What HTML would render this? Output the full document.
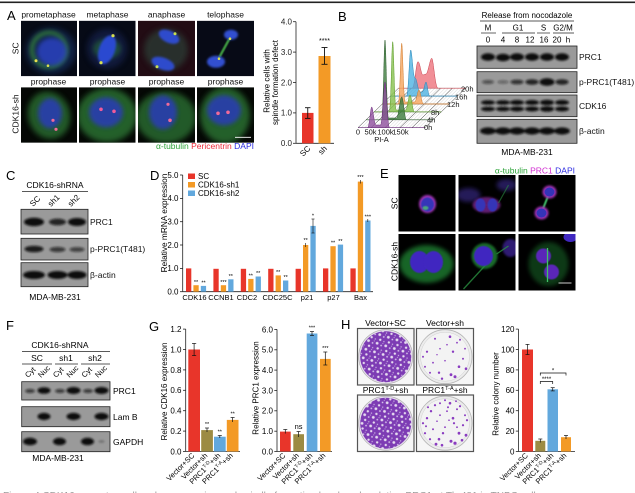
<!DOCTYPE html>
<html><head><meta charset="utf-8">
<style>
html,body{margin:0;padding:0;background:#fff;}
svg{display:block;font-family:"Liberation Sans",Arial,sans-serif;}
</style></head><body>
<svg width="635" height="493" viewBox="0 0 635 493" xmlns="http://www.w3.org/2000/svg">
<defs>
<filter id="f05" x="-50%" y="-50%" width="200%" height="200%"><feGaussianBlur stdDeviation="0.6"/></filter>
<filter id="f1" x="-50%" y="-50%" width="200%" height="200%"><feGaussianBlur stdDeviation="1"/></filter>
<filter id="f2" x="-50%" y="-50%" width="200%" height="200%"><feGaussianBlur stdDeviation="2"/></filter>
<filter id="f3" x="-50%" y="-50%" width="200%" height="200%"><feGaussianBlur stdDeviation="3"/></filter>
<filter id="fb" x="-50%" y="-80%" width="200%" height="260%"><feGaussianBlur stdDeviation="1.1"/></filter>
<pattern id="hatch" width="2.4" height="2.4" patternUnits="userSpaceOnUse" patternTransform="rotate(45)"><line x1="0" y1="0" x2="0" y2="2.4" stroke="#b5b5b5" stroke-width="0.5"/></pattern>
<pattern id="speck" width="9" height="9" patternUnits="userSpaceOnUse" patternTransform="rotate(17)"><rect width="9" height="9" fill="#7d3cb4"/><circle cx="2" cy="2" r="1.4" fill="#e6dcf0"/><circle cx="6.5" cy="3" r="0.9" fill="#d6c4ea"/><circle cx="4" cy="6.8" r="1.2" fill="#e6dcf0"/><circle cx="8" cy="7.5" r="0.7" fill="#c8b0e2"/><circle cx="7.6" cy="0.6" r="0.5" fill="#d6c4ea"/></pattern>
</defs>

<rect x="0" y="1.5" width="635" height="1.6" fill="#222"/>

<!-- ========== PANEL A ========== -->
<text x="7" y="20" font-size="13">A</text>
<g font-size="8.5" text-anchor="middle" fill="#111">
<text x="48.5" y="17.5">prometaphase</text>
<text x="107.5" y="17.5">metaphase</text>
<text x="166.5" y="17.5">anaphase</text>
<text x="225.5" y="17.5">telophase</text>
<text x="48.5" y="84.5">prophase</text>
<text x="107.5" y="84.5">prophase</text>
<text x="166.5" y="84.5">prophase</text>
<text x="225.5" y="84.5">prophase</text>
<text transform="translate(18.5,48.3) rotate(-90)">SC</text>
<text transform="translate(18.5,114) rotate(-90)">CDK16-sh</text>
</g>

<!-- A row1 -->
<svg x="21" y="20.7" width="56" height="55.5">
<rect width="56" height="55.5" fill="#070b16"/>
<ellipse cx="30" cy="30" rx="25" ry="23" fill="#1c3a78" opacity="0.5" filter="url(#f3)"/>
<circle cx="28" cy="29" r="17" fill="none" stroke="#3a9438" stroke-width="4" opacity="0.75" filter="url(#f2)"/>
<ellipse cx="31" cy="31" rx="15" ry="14" fill="#2a42c0" opacity="0.85" filter="url(#f2)"/>
<circle cx="15" cy="40" r="1.5" fill="#e8e050"/><circle cx="27" cy="45" r="1.3" fill="#d8e050"/>
</svg>
<svg x="79" y="20.7" width="56.5" height="55.5">
<rect width="56.5" height="55.5" fill="#060a16"/>
<ellipse cx="28" cy="28" rx="20" ry="20" fill="#1a2a62" opacity="0.5" filter="url(#f3)"/>
<ellipse cx="28" cy="28" rx="14" ry="10" fill="#2a7a3a" opacity="0.5" filter="url(#f2)"/>
<ellipse cx="28" cy="29" rx="8" ry="15" fill="#2c48d0" transform="rotate(20 28 29)" filter="url(#f1)"/>
<circle cx="34" cy="15" r="1.6" fill="#d8e050"/><circle cx="22" cy="42" r="1.6" fill="#d8e050"/>
</svg>
<svg x="138" y="20.7" width="57" height="55.5">
<rect width="57" height="55.5" fill="#220c14"/>
<ellipse cx="28" cy="29" rx="22" ry="21" fill="#2e4a3e" opacity="0.6" filter="url(#f3)"/>
<ellipse cx="31" cy="16" rx="11" ry="6" fill="#2f4ccc" transform="rotate(25 31 16)" filter="url(#f1)"/>
<ellipse cx="25" cy="43" rx="12" ry="6" fill="#2f4ccc" transform="rotate(20 25 43)" filter="url(#f1)"/>
<circle cx="37" cy="13" r="1.5" fill="#c8e050"/><circle cx="19" cy="46" r="1.5" fill="#c8e050"/>
</svg>
<svg x="197" y="20.7" width="57" height="55.5">
<rect width="57" height="55.5" fill="#070a16"/>
<line x1="33" y1="17" x2="21" y2="39" stroke="#3e9a40" stroke-width="2.5" filter="url(#f05)"/>
<ellipse cx="34" cy="14" rx="7" ry="5" fill="#3250d0" filter="url(#f1)"/>
<ellipse cx="19" cy="41" rx="9" ry="6" fill="#3250d0" filter="url(#f1)"/>
<circle cx="33" cy="18" r="1.3" fill="#d8e050"/><circle cx="22" cy="38" r="1.3" fill="#d8e050"/>
</svg>
<!-- A row2 -->
<svg x="21" y="87.3" width="56" height="55.5">
<rect width="56" height="55.5" fill="#050805"/>
<ellipse cx="28" cy="28" rx="21" ry="24" fill="#2a7030" opacity="0.8" transform="rotate(-20 28 28)" filter="url(#f3)"/>
<ellipse cx="29" cy="26" rx="12" ry="15" fill="#2a3cb0" opacity="0.9" filter="url(#f2)"/>
<circle cx="32" cy="33" r="1.6" fill="#f06a9a"/><circle cx="35" cy="42" r="1.6" fill="#f06a9a"/>
</svg>
<svg x="79" y="87.3" width="56.5" height="55.5">
<rect width="56.5" height="55.5" fill="#050805"/>
<ellipse cx="28" cy="28" rx="30" ry="27" fill="#2a7030" opacity="0.85" filter="url(#f3)"/>
<ellipse cx="27" cy="25" rx="17" ry="15" fill="#2a3cb0" opacity="0.9" filter="url(#f2)"/>
<circle cx="22" cy="22" r="1.8" fill="#f05a9a"/><circle cx="35" cy="24" r="1.8" fill="#f05a9a"/>
</svg>
<svg x="138" y="87.3" width="57" height="55.5">
<rect width="57" height="55.5" fill="#050805"/>
<ellipse cx="28" cy="30" rx="30" ry="26" fill="#2a7030" opacity="0.8" filter="url(#f3)"/>
<ellipse cx="25" cy="25" rx="14" ry="17" fill="#2a3cb0" opacity="0.9" filter="url(#f2)"/>
<circle cx="30" cy="17" r="1.6" fill="#f06a9a"/><circle cx="32" cy="33" r="1.8" fill="#f06a9a"/>
</svg>
<svg x="197" y="87.3" width="57" height="55.5">
<rect width="57" height="55.5" fill="#050805"/>
<ellipse cx="28" cy="28" rx="25" ry="28" fill="#2a7030" opacity="0.85" filter="url(#f3)"/>
<ellipse cx="27" cy="23" rx="17" ry="15" fill="#2a3cb0" opacity="0.9" filter="url(#f2)"/>
<circle cx="21" cy="26" r="1.8" fill="#f06a9a"/><circle cx="31" cy="25" r="1.8" fill="#f06a9a"/>
<line x1="38" y1="50" x2="54" y2="50" stroke="#fff" stroke-width="0.8"/>
</svg>
<text x="254" y="149" font-size="8.5" text-anchor="end"><tspan fill="#2ea43a">α-tubulin</tspan> <tspan fill="#ee2b3a">Pericentrin</tspan> <tspan fill="#2a2ae0">DAPI</tspan></text>

<!-- A bar chart -->
<g stroke="#222" stroke-width="0.8">
<line x1="296" y1="21.7" x2="296" y2="143.3"/>
<line x1="296" y1="143.3" x2="334" y2="143.3"/>
<line x1="293" y1="21.7" x2="296" y2="21.7"/><line x1="293" y1="52.1" x2="296" y2="52.1"/>
<line x1="293" y1="82.5" x2="296" y2="82.5"/><line x1="293" y1="112.9" x2="296" y2="112.9"/>
<line x1="293" y1="143.3" x2="296" y2="143.3"/>
</g>
<g font-size="8" text-anchor="end" fill="#222">
<text x="292" y="24.5">4.0</text><text x="292" y="54.9">3.0</text><text x="292" y="85.3">2.0</text>
<text x="292" y="115.7">1.0</text><text x="292" y="146.1">0.0</text>
</g>
<rect x="302" y="112.9" width="11.5" height="30.4" fill="#e8352a"/>
<rect x="318.5" y="56" width="12" height="87.3" fill="#f39a26"/>
<g stroke="#111" stroke-width="0.9">
<line x1="307.75" y1="107.7" x2="307.75" y2="118.4"/><line x1="305" y1="107.7" x2="310.5" y2="107.7"/><line x1="305" y1="118.4" x2="310.5" y2="118.4"/>
<line x1="324.5" y1="47.5" x2="324.5" y2="64.3"/><line x1="321.5" y1="47.5" x2="327.5" y2="47.5"/><line x1="321.5" y1="64.3" x2="327.5" y2="64.3"/>
</g>
<text x="324.5" y="43" font-size="7" text-anchor="middle">****</text>
<g font-size="8" text-anchor="end">
<text transform="translate(311,149) rotate(-45)">SC</text>
<text transform="translate(327.5,149) rotate(-45)">sh</text>
</g>
<g font-size="8" text-anchor="middle">
<text transform="translate(269.5,81) rotate(-90)">Relative cells with</text>
<text transform="translate(278,82.5) rotate(-90)">spindle formation defect</text>
</g>

<!-- ========== PANEL B ========== -->
<text x="338" y="21" font-size="13">B</text>
<polygon points="358,127.7 425,127.7 465.5,88.2 398.5,88.2" fill="#fff"/>
<polygon points="358,127.7 425,127.7 465.5,88.2 398.5,88.2" fill="url(#hatch)"/>
<g stroke="#333" stroke-width="0.5" fill="none">
<line x1="358" y1="127.7" x2="398.5" y2="88.2"/>
<line x1="425" y1="127.7" x2="465.5" y2="88.2"/>
<line x1="371" y1="127.7" x2="411.5" y2="88.2"/>
<line x1="385" y1="127.7" x2="425.5" y2="88.2"/>
<line x1="400" y1="127.7" x2="440.5" y2="88.2"/>
<line x1="412" y1="127.7" x2="452.5" y2="88.2"/>
<line x1="358" y1="127.7" x2="425" y2="127.7"/>
<line x1="366.1" y1="119.8" x2="433.1" y2="119.8"/>
<line x1="374.2" y1="111.9" x2="441.2" y2="111.9"/>
<line x1="382.3" y1="104" x2="449.3" y2="104"/>
<line x1="390.4" y1="96.1" x2="457.4" y2="96.1"/>
<line x1="398.5" y1="88.2" x2="465.5" y2="88.2"/>
</g>
<path d="M398.5,88.2 L412,88.2 C415,88.2 416,61.7 418,61.7 C420,61.7 421,75 423,75 L426,74 C428,74 430,58.3 431.7,58.3 C433.5,58.3 435,88.2 438,88.2 L465.5,88.2 Z" fill="#ec6a74" fill-opacity="0.75" stroke="#c8404c" stroke-width="0.5"/>
<path d="M390.4,96.1 L406.5,96.1 C408.5,96.1 409.5,50 410.7,50 C412,50 413,78 415,78 C417,78 418,92 420,92 L422,92 C424,92 424.8,82 426,82 C427.2,82 428,96.1 430,96.1 L457.4,96.1 Z" fill="#42ade0" fill-opacity="0.75" stroke="#2a86b8" stroke-width="0.5"/>
<path d="M382.3,104 L398.2,104 C400,104 400.7,43.3 401.7,43.3 C402.7,43.3 403.4,102 405.2,102 L414.5,102 C416.5,102 417.5,90 419,90 C420.5,90 421.5,104 423.5,104 L449.3,104 Z" fill="#f5a45c" fill-opacity="0.8" stroke="#d07a2a" stroke-width="0.5"/>
<path d="M374.2,111.9 L389.2,111.9 C391,111.9 391.7,41.7 392.7,41.7 C393.7,41.7 394.4,110 396.2,110 L405.5,110 C407.5,110 408.5,95 410,95 C411.5,95 412.5,111.9 414.5,111.9 L441.2,111.9 Z" fill="#86c04c" fill-opacity="0.8" stroke="#5a9a2a" stroke-width="0.5"/>
<path d="M366.1,119.8 L381.5,119.8 C383.3,119.8 384,40 385,40 C386,40 386.7,118 388.5,118 L396.5,118 C398.5,118 400,97 401.7,97 C403.4,97 404.5,119.8 406.5,119.8 L433.1,119.8 Z" fill="#3b7a3b" fill-opacity="0.8" stroke="#2a5a2a" stroke-width="0.5"/>
<path d="M358,127.7 L367.5,127.7 C369.5,127.7 370.5,107 371.7,107 C373,107 374,125 376,125 L380.5,125 C382.5,125 383.8,82 385,82 C386.2,82 387.5,127.7 389.5,127.7 L425,127.7 Z" fill="#8e4f9e" fill-opacity="0.8" stroke="#6a2a7a" stroke-width="0.5"/>
<g font-size="7.5" fill="#111">
<text x="461" y="91.5">20h</text><text x="455" y="99.5">16h</text><text x="447" y="107">12h</text>
<text x="431" y="115">8h</text><text x="427" y="122.5">4h</text><text x="424" y="130">0h</text>
</g>
<g font-size="7.5" text-anchor="middle" fill="#111">
<text x="358" y="134.5">0</text><text x="370.5" y="134.5">50k</text><text x="385.5" y="134.5">100k</text><text x="400.5" y="134.5">150k</text>
<text x="381.5" y="142">PI-A</text>
</g>

<!-- B blot -->
<text x="527" y="18" font-size="8" text-anchor="middle">Release from nocodazole</text>
<line x1="480" y1="21" x2="574" y2="21" stroke="#222" stroke-width="0.7"/>
<g font-size="8" text-anchor="middle">
<text x="488" y="30.5">M</text><text x="518" y="30.5">G1</text><text x="543.5" y="30.5">S</text><text x="563" y="30.5">G2/M</text>
<text x="488" y="42.5">0</text><text x="503" y="42.5">4</text><text x="517" y="42.5">8</text><text x="530" y="42.5">12</text><text x="544" y="42.5">16</text><text x="557" y="42.5">20</text><text x="568" y="42.5">h</text>
</g>
<g stroke="#222" stroke-width="0.7">
<line x1="481" y1="33" x2="496" y2="33"/><line x1="502" y1="33" x2="535" y2="33"/>
<line x1="537" y1="33" x2="550" y2="33"/><line x1="553" y1="33" x2="574" y2="33"/>
</g>
<g fill="#9a9a9a" stroke="#222" stroke-width="0.8">
<rect x="477" y="46" width="100" height="22.3"/>
<rect x="477" y="71.7" width="100" height="21"/>
<rect x="477" y="95" width="100" height="21.7"/>
<rect x="477" y="119.3" width="100" height="24"/>
</g>
<g fill="#111" filter="url(#fb)">
<ellipse cx="488" cy="57" rx="7" ry="3.8"/><ellipse cx="503" cy="57.5" rx="7" ry="3.8"/><ellipse cx="517" cy="57" rx="7" ry="3.8"/>
<ellipse cx="532" cy="57" rx="7" ry="3.8"/><ellipse cx="547" cy="57" rx="7" ry="3.8"/><ellipse cx="562" cy="57" rx="7" ry="3.8"/>
<ellipse cx="488" cy="82" rx="6" ry="2" opacity="0.55"/><ellipse cx="503" cy="82" rx="5.5" ry="1.8" opacity="0.4"/><ellipse cx="517" cy="82" rx="6.5" ry="2.4" opacity="0.75"/>
<ellipse cx="532" cy="82" rx="6.5" ry="2.8" opacity="0.85"/><ellipse cx="547" cy="82" rx="7.5" ry="3.8"/><ellipse cx="562" cy="82" rx="6.5" ry="2.8" opacity="0.85"/>
<ellipse cx="488" cy="102.5" rx="7" ry="2.3"/><ellipse cx="503" cy="102.5" rx="7" ry="2.3"/><ellipse cx="517" cy="102.5" rx="7" ry="2.5"/><ellipse cx="532" cy="102.5" rx="7" ry="2.5"/><ellipse cx="547" cy="102.5" rx="7" ry="2.8"/><ellipse cx="562" cy="102.5" rx="7" ry="2.5"/>
<ellipse cx="488" cy="109" rx="7" ry="2.3"/><ellipse cx="503" cy="109" rx="7" ry="2.3"/><ellipse cx="517" cy="109" rx="7" ry="2.5"/><ellipse cx="532" cy="109" rx="7" ry="2.5"/><ellipse cx="547" cy="109" rx="7" ry="2.8"/><ellipse cx="562" cy="109" rx="7" ry="2.5"/>
<ellipse cx="488" cy="131" rx="8" ry="3.6"/><ellipse cx="503" cy="131" rx="8" ry="3.6"/><ellipse cx="517" cy="131" rx="8" ry="3.6"/>
<ellipse cx="532" cy="131" rx="8" ry="3.6"/><ellipse cx="547" cy="131" rx="8" ry="3.6"/><ellipse cx="562" cy="131" rx="8" ry="3.6"/>
</g>
<g font-size="8.5" fill="#111">
<text x="579" y="60">PRC1</text><text x="579" y="85">p-PRC1(T481)</text><text x="579" y="109">CDK16</text><text x="579" y="134">β-actin</text>
</g>
<text x="527" y="155" font-size="8.5" text-anchor="middle">MDA-MB-231</text>

<!-- ========== PANEL C ========== -->
<text x="6" y="180" font-size="13">C</text>
<text x="55" y="188" font-size="8.5" text-anchor="middle">CDK16-shRNA</text>
<line x1="22" y1="191.5" x2="88" y2="191.5" stroke="#222" stroke-width="0.7"/>
<g font-size="8">
<text transform="translate(33,207) rotate(-45)">SC</text>
<text transform="translate(51,207) rotate(-45)">sh1</text>
<text transform="translate(71,207) rotate(-45)">sh2</text>
</g>
<g fill="#9a9a9a" stroke="#222" stroke-width="0.8">
<rect x="21" y="209.3" width="67" height="24.7"/>
<rect x="21" y="238.3" width="67" height="21.7"/>
<rect x="21" y="262.7" width="67" height="24"/>
</g>
<g fill="#111" filter="url(#fb)">
<ellipse cx="34" cy="222" rx="10" ry="4.2"/><ellipse cx="57.5" cy="222" rx="8.5" ry="3.4" opacity="0.85"/><ellipse cx="77" cy="222" rx="9" ry="4"/>
<ellipse cx="34" cy="249" rx="9.5" ry="3.3" opacity="0.9"/><ellipse cx="57.5" cy="249.5" rx="8" ry="2.6" opacity="0.7"/><ellipse cx="77" cy="249.5" rx="7.5" ry="2.4" opacity="0.65"/>
<ellipse cx="34" cy="275" rx="11" ry="4"/><ellipse cx="57.5" cy="275" rx="10" ry="4"/><ellipse cx="77" cy="275" rx="9.5" ry="4"/>
</g>
<g font-size="8.5" fill="#111">
<text x="90" y="225">PRC1</text><text x="90" y="252">p-PRC1(T481)</text><text x="90" y="278">β-actin</text>
</g>
<text x="55" y="300" font-size="8.5" text-anchor="middle">MDA-MB-231</text>

<!-- ========== PANEL D ========== -->
<text x="150" y="180" font-size="13">D</text>
<g stroke="#222" stroke-width="0.8">
<line x1="182.7" y1="175" x2="182.7" y2="291.7"/>
<line x1="182.7" y1="291.7" x2="373" y2="291.7"/>
<line x1="180" y1="175" x2="182.7" y2="175"/><line x1="180" y1="198.4" x2="182.7" y2="198.4"/>
<line x1="180" y1="221.7" x2="182.7" y2="221.7"/><line x1="180" y1="245" x2="182.7" y2="245"/>
<line x1="180" y1="268.4" x2="182.7" y2="268.4"/><line x1="180" y1="291.7" x2="182.7" y2="291.7"/>
</g>
<g font-size="8" text-anchor="end">
<text x="178.5" y="177.8">5.0</text><text x="178.5" y="201.2">4.0</text><text x="178.5" y="224.5">3.0</text>
<text x="178.5" y="247.8">2.0</text><text x="178.5" y="271.2">1.0</text><text x="178.5" y="294.5">0.0</text>
</g>
<text transform="translate(167,223) rotate(-90)" font-size="8.3" text-anchor="middle">Relative mRNA expression</text>
<rect x="188" y="173.5" width="7" height="5.5" fill="#e8352a"/><text x="198" y="179.2" font-size="8">SC</text>
<rect x="188" y="182" width="7" height="5.5" fill="#f39a26"/><text x="198" y="187.7" font-size="8">CDK16-sh1</text>
<rect x="188" y="190.5" width="7" height="5.5" fill="#62a8dd"/><text x="198" y="196.2" font-size="8">CDK16-sh2</text>
<g fill="#e8352a">
<rect x="186" y="268.4" width="5.3" height="23.3"/><rect x="213.4" y="268.8" width="5.3" height="22.9"/>
<rect x="240.8" y="268.8" width="5.3" height="22.9"/><rect x="268.2" y="268.8" width="5.3" height="22.9"/>
<rect x="295.6" y="268.8" width="5.3" height="22.9"/><rect x="323" y="268.4" width="5.3" height="23.3"/>
<rect x="350.4" y="268.4" width="5.3" height="23.3"/>
</g>
<g fill="#f39a26">
<rect x="193.4" y="285.2" width="5.3" height="6.5"/><rect x="220.8" y="285.2" width="5.3" height="6.5"/>
<rect x="248.2" y="278.9" width="5.3" height="12.8"/><rect x="275.6" y="275.4" width="5.3" height="16.3"/>
<rect x="303" y="245" width="5.3" height="46.7"/><rect x="330.4" y="246.2" width="5.3" height="45.5"/>
<rect x="357.8" y="181.6" width="5.3" height="110.1"/>
</g>
<g fill="#62a8dd">
<rect x="200.8" y="285.9" width="5.3" height="5.8"/><rect x="228.2" y="279.3" width="5.3" height="12.4"/>
<rect x="255.6" y="276.5" width="5.3" height="15.2"/><rect x="283" y="280.5" width="5.3" height="11.2"/>
<rect x="310.4" y="225.9" width="5.3" height="65.8"/><rect x="337.8" y="244.6" width="5.3" height="47.1"/>
<rect x="365.2" y="220.5" width="5.3" height="71.2"/>
</g>
<g stroke="#111" stroke-width="0.6">
<line x1="313" y1="219" x2="313" y2="233"/><line x1="311.5" y1="219" x2="314.5" y2="219"/><line x1="311.5" y1="233" x2="314.5" y2="233"/>
<line x1="305.6" y1="243" x2="305.6" y2="247"/><line x1="360.4" y1="180" x2="360.4" y2="183.5"/><line x1="367.8" y1="219" x2="367.8" y2="222"/>
</g>
<g font-size="5.5" text-anchor="middle">
<text x="196" y="284">**</text><text x="203.5" y="284.5">**</text>
<text x="223.4" y="284">***</text><text x="230.8" y="278">**</text>
<text x="250.8" y="277.5">**</text><text x="258.2" y="275">**</text>
<text x="278.2" y="274">**</text><text x="285.6" y="279">**</text>
<text x="305.6" y="242">**</text><text x="313" y="217.5">*</text>
<text x="333" y="244.5">**</text><text x="340.4" y="243">**</text>
<text x="360.4" y="179">***</text><text x="367.8" y="218.5">***</text>
</g>
<g font-size="7.5" text-anchor="middle">
<text x="194.5" y="300">CDK16</text><text x="221" y="300">CCNB1</text><text x="247" y="300">CDC2</text>
<text x="277.5" y="300">CDC25C</text><text x="307" y="300">p21</text><text x="333.5" y="300">p27</text><text x="360.5" y="300">Bax</text>
</g>

<!-- ========== PANEL E ========== -->
<text x="380" y="178" font-size="13">E</text>
<text x="575" y="173.5" font-size="8.5" text-anchor="end"><tspan fill="#2ea43a">α-tubulin</tspan> <tspan fill="#d02ad0">PRC1</tspan> <tspan fill="#2a2ae0">DAPI</tspan></text>
<g font-size="8.5" text-anchor="middle">
<text transform="translate(397.5,203.3) rotate(-90)">SC</text>
<text transform="translate(397.5,261.5) rotate(-90)">CDK16-sh</text>
</g>
<svg x="398.5" y="175" width="57" height="56.5">
<rect width="57" height="56.5" fill="#000"/>
<ellipse cx="29" cy="29" rx="8.5" ry="9" fill="#a035b8" filter="url(#f1)"/>
<ellipse cx="29" cy="29.5" rx="6.5" ry="7" fill="#3434b8" filter="url(#f05)"/>
<ellipse cx="27" cy="33" rx="3" ry="2" fill="#50c070" opacity="0.8" filter="url(#f05)"/>
</svg>
<svg x="458.5" y="175" width="57" height="56.5">
<rect width="57" height="56.5" fill="#000"/>
<ellipse cx="10" cy="20" rx="12" ry="7" fill="#2e2270" opacity="0.8" filter="url(#f2)"/>
<ellipse cx="48" cy="10" rx="10" ry="6" fill="#2e2270" opacity="0.8" filter="url(#f2)"/>
<ellipse cx="28" cy="30" rx="14" ry="8" fill="#8a2aa0" opacity="0.7" filter="url(#f1)"/>
<ellipse cx="22" cy="30" rx="5" ry="6.5" fill="#3434b8" filter="url(#f05)"/>
<ellipse cx="34" cy="30" rx="5" ry="6.5" fill="#3434b8" filter="url(#f05)"/>
<line x1="28" y1="24" x2="28" y2="36" stroke="#50d078" stroke-width="2.5" filter="url(#f05)"/>
<line x1="40" y1="28" x2="50" y2="10" stroke="#2a8a40" stroke-width="1.2" opacity="0.6"/>
</svg>
<svg x="518.5" y="175" width="57" height="56.5">
<rect width="57" height="56.5" fill="#000"/>
<line x1="30" y1="20" x2="24" y2="35" stroke="#40c068" stroke-width="2" filter="url(#f05)"/>
<ellipse cx="31" cy="17" rx="7" ry="6.5" fill="#a030b8" filter="url(#f1)"/>
<ellipse cx="31" cy="17" rx="5" ry="4.5" fill="#3434b8"/>
<ellipse cx="23" cy="38" rx="7" ry="6.5" fill="#a030b8" filter="url(#f1)"/>
<ellipse cx="23" cy="38" rx="5" ry="4.5" fill="#3434b8"/>
</svg>
<svg x="398.5" y="234" width="57" height="56.5">
<rect width="57" height="56.5" fill="#000"/>
<ellipse cx="28" cy="30" rx="27" ry="19" fill="#229038" opacity="0.7" filter="url(#f2)"/>
<ellipse cx="21" cy="28" rx="9.5" ry="11" fill="#4028c0" filter="url(#f05)"/>
<ellipse cx="35" cy="28" rx="9.5" ry="11" fill="#4028c0" filter="url(#f05)"/>
</svg>
<svg x="458.5" y="234" width="57" height="56.5">
<rect width="57" height="56.5" fill="#000"/>
<ellipse cx="52" cy="14" rx="8" ry="9" fill="#3a2290" opacity="0.8" filter="url(#f1)"/>
<line x1="28" y1="30" x2="5" y2="55" stroke="#2a9040" stroke-width="1.3" opacity="0.8"/>
<line x1="38" y1="20" x2="50" y2="12" stroke="#2a9040" stroke-width="1.3" opacity="0.8"/>
<ellipse cx="26" cy="22" rx="13" ry="13" fill="#229038" opacity="0.75" filter="url(#f1)"/>
<ellipse cx="25" cy="22" rx="9.5" ry="10" fill="#4028c0" filter="url(#f05)"/>
</svg>
<svg x="518.5" y="234" width="57" height="56.5">
<rect width="57" height="56.5" fill="#000"/>
<ellipse cx="30" cy="30" rx="20" ry="22" fill="#229038" opacity="0.4" filter="url(#f2)"/>
<ellipse cx="52" cy="3" rx="7" ry="5" fill="#4028c0"/>
<ellipse cx="25" cy="22" rx="7.5" ry="7.5" fill="#5a28b8" filter="url(#f05)"/>
<ellipse cx="33" cy="38" rx="7.5" ry="7.5" fill="#5a28b8" filter="url(#f05)"/>
<line x1="29" y1="14" x2="29" y2="48" stroke="#40c068" stroke-width="1.3"/>
<line x1="40" y1="49" x2="53" y2="49" stroke="#fff" stroke-width="0.8"/>
</svg>

<!-- ========== PANEL F ========== -->
<text x="6" y="330" font-size="13">F</text>
<text x="60" y="348" font-size="8.5" text-anchor="middle">CDK16-shRNA</text>
<line x1="22" y1="351.5" x2="110" y2="351.5" stroke="#222" stroke-width="0.7"/>
<g font-size="8.5" text-anchor="middle">
<text x="37" y="361">SC</text><text x="66" y="361">sh1</text><text x="95" y="361">sh2</text>
</g>
<g stroke="#222" stroke-width="0.7">
<line x1="22" y1="364" x2="52" y2="364"/><line x1="55" y1="364" x2="78" y2="364"/><line x1="81" y1="364" x2="110" y2="364"/>
</g>
<g font-size="7.5">
<text transform="translate(28,378) rotate(-45)">Cyt</text><text transform="translate(41,378) rotate(-45)">Nuc</text>
<text transform="translate(56,378) rotate(-45)">Cyt</text><text transform="translate(69.5,378) rotate(-45)">Nuc</text>
<text transform="translate(84.5,378) rotate(-45)">Cyt</text><text transform="translate(98,378) rotate(-45)">Nuc</text>
</g>
<g fill="#9a9a9a" stroke="#222" stroke-width="0.8">
<rect x="21.7" y="381.7" width="88.3" height="18.3"/>
<rect x="21.7" y="406.7" width="88.3" height="20"/>
<rect x="21.7" y="431.7" width="88.3" height="20"/>
</g>
<g fill="#111" filter="url(#fb)">
<ellipse cx="30" cy="391" rx="5" ry="2" opacity="0.7"/><ellipse cx="44" cy="390.5" rx="6.5" ry="3.3"/>
<ellipse cx="60" cy="391" rx="5" ry="2" opacity="0.7"/><ellipse cx="73.5" cy="390.5" rx="7" ry="3.5"/>
<ellipse cx="88" cy="391" rx="5" ry="2" opacity="0.7"/><ellipse cx="101.5" cy="390.5" rx="7" ry="3.5"/>
<ellipse cx="44" cy="416.5" rx="6.5" ry="3.6"/><ellipse cx="73.5" cy="416.5" rx="7" ry="3.6"/><ellipse cx="101.5" cy="416.5" rx="7" ry="3.6"/>
<ellipse cx="30" cy="441.5" rx="7" ry="3.8"/><ellipse cx="59.5" cy="441.5" rx="6.5" ry="3.8"/><ellipse cx="87.5" cy="441.5" rx="6.5" ry="3.8"/>
<ellipse cx="101.5" cy="441.5" rx="3" ry="1.2" opacity="0.3"/>
</g>
<g font-size="8.5">
<text x="113" y="394">PRC1</text><text x="113" y="420">Lam B</text><text x="113" y="445">GAPDH</text>
</g>
<text x="58" y="461" font-size="8.5" text-anchor="middle">MDA-MB-231</text>

<!-- ========== PANEL G ========== -->
<text x="149" y="331" font-size="13">G</text>
<g stroke="#222" stroke-width="0.8">
<line x1="185.7" y1="329.1" x2="185.7" y2="451.5"/>
<line x1="185.7" y1="451.5" x2="240" y2="451.5"/>
<line x1="183" y1="329.1" x2="185.7" y2="329.1"/><line x1="183" y1="349.5" x2="185.7" y2="349.5"/>
<line x1="183" y1="369.9" x2="185.7" y2="369.9"/><line x1="183" y1="390.3" x2="185.7" y2="390.3"/>
<line x1="183" y1="410.7" x2="185.7" y2="410.7"/><line x1="183" y1="431.1" x2="185.7" y2="431.1"/>
<line x1="183" y1="451.5" x2="185.7" y2="451.5"/>
</g>
<g font-size="8" text-anchor="end">
<text x="181.5" y="332">1.2</text><text x="181.5" y="352.4">1.0</text><text x="181.5" y="372.8">0.8</text>
<text x="181.5" y="393.2">0.6</text><text x="181.5" y="413.6">0.4</text><text x="181.5" y="434">0.2</text><text x="181.5" y="454.4">0.0</text>
</g>
<text transform="translate(167,391.5) rotate(-90)" font-size="8" text-anchor="middle">Relative CDK16 expression</text>
<rect x="188.3" y="349.5" width="11.7" height="102" fill="#e8352a"/>
<rect x="201.2" y="430.1" width="11.7" height="21.4" fill="#9c8b43"/>
<rect x="214" y="436.7" width="11.7" height="14.8" fill="#62a8dd"/>
<rect x="226.8" y="419.9" width="11.7" height="31.6" fill="#f39a26"/>
<g stroke="#111" stroke-width="0.7">
<line x1="194.1" y1="343.4" x2="194.1" y2="355.6"/><line x1="192" y1="343.4" x2="196.2" y2="343.4"/><line x1="192" y1="355.6" x2="196.2" y2="355.6"/>
<line x1="207" y1="428" x2="207" y2="432"/><line x1="205" y1="428" x2="209" y2="428"/>
<line x1="219.8" y1="435.5" x2="219.8" y2="438"/><line x1="217.8" y1="435.5" x2="221.8" y2="435.5"/>
<line x1="232.6" y1="417.5" x2="232.6" y2="422"/><line x1="230.6" y1="417.5" x2="234.6" y2="417.5"/>
</g>
<g font-size="5.5" text-anchor="middle">
<text x="207" y="426">**</text><text x="219.8" y="433.5">**</text><text x="232.6" y="415.5">**</text>
</g>
<g font-size="7.5" text-anchor="end">
<text transform="translate(195,456) rotate(-45)">Vector+SC</text>
<text transform="translate(208,456) rotate(-45)">Vector+sh</text>
<text transform="translate(221,456) rotate(-45)">PRC1<tspan font-size="5" dy="-3">T-D</tspan><tspan dy="3">+sh</tspan></text>
<text transform="translate(233.5,456) rotate(-45)">PRC1<tspan font-size="5" dy="-3">T-A</tspan><tspan dy="3">+sh</tspan></text>
</g>
<g stroke="#222" stroke-width="0.8">
<line x1="277" y1="329.4" x2="277" y2="451.5"/>
<line x1="277" y1="451.5" x2="332" y2="451.5"/>
<line x1="274.3" y1="329.4" x2="277" y2="329.4"/><line x1="274.3" y1="349.8" x2="277" y2="349.8"/>
<line x1="274.3" y1="370.1" x2="277" y2="370.1"/><line x1="274.3" y1="390.5" x2="277" y2="390.5"/>
<line x1="274.3" y1="410.8" x2="277" y2="410.8"/><line x1="274.3" y1="431.2" x2="277" y2="431.2"/>
<line x1="274.3" y1="451.5" x2="277" y2="451.5"/>
</g>
<g font-size="8" text-anchor="end">
<text x="273" y="332.3">6.0</text><text x="273" y="352.7">5.0</text><text x="273" y="373">4.0</text>
<text x="273" y="393.4">3.0</text><text x="273" y="413.7">2.0</text><text x="273" y="434.1">1.0</text><text x="273" y="454.4">0.0</text>
</g>
<text transform="translate(258.5,388) rotate(-90)" font-size="8" text-anchor="middle">Relative PRC1 expression</text>
<rect x="280" y="431.6" width="10.7" height="19.9" fill="#e8352a"/>
<rect x="293.3" y="434.2" width="10.7" height="17.3" fill="#9c8b43"/>
<rect x="306.7" y="333.5" width="10.7" height="118" fill="#62a8dd"/>
<rect x="320" y="358.9" width="10.7" height="92.6" fill="#f39a26"/>
<g stroke="#111" stroke-width="0.7">
<line x1="285.3" y1="429.5" x2="285.3" y2="433.5"/><line x1="283.3" y1="429.5" x2="287.3" y2="429.5"/>
<line x1="298.6" y1="431.5" x2="298.6" y2="437"/><line x1="296.6" y1="431.5" x2="300.6" y2="431.5"/>
<line x1="312" y1="331.5" x2="312" y2="335.5"/><line x1="310" y1="331.5" x2="314" y2="331.5"/><line x1="310" y1="335.5" x2="314" y2="335.5"/>
<line x1="325.3" y1="352" x2="325.3" y2="365"/><line x1="323.3" y1="352" x2="327.3" y2="352"/><line x1="323.3" y1="365" x2="327.3" y2="365"/>
</g>
<text x="298.6" y="429" font-size="7.5" text-anchor="middle">ns</text>
<g font-size="5.5" text-anchor="middle"><text x="312" y="329.5">***</text><text x="325.3" y="350">***</text></g>
<g font-size="7.5" text-anchor="end">
<text transform="translate(286,456) rotate(-45)">Vector+SC</text>
<text transform="translate(299.5,456) rotate(-45)">Vector+sh</text>
<text transform="translate(313,456) rotate(-45)">PRC1<tspan font-size="5" dy="-3">T-D</tspan><tspan dy="3">+sh</tspan></text>
<text transform="translate(326,456) rotate(-45)">PRC1<tspan font-size="5" dy="-3">T-A</tspan><tspan dy="3">+sh</tspan></text>
</g>

<!-- ========== PANEL H ========== -->
<text x="341" y="329" font-size="13">H</text>
<g font-size="8.5" text-anchor="middle">
<text x="385.5" y="326">Vector+SC</text><text x="445" y="326">Vector+sh</text>
<text x="385.5" y="393">PRC1<tspan font-size="5.5" dy="-3">T-D</tspan><tspan dy="3">+sh</tspan></text>
<text x="445" y="393">PRC1<tspan font-size="5.5" dy="-3">T-A</tspan><tspan dy="3">+sh</tspan></text>
</g>
<g fill="#f6f6f6" stroke="#555" stroke-width="1.2">
<rect x="357.5" y="328.5" width="56.5" height="56.5"/><rect x="416.5" y="328.5" width="57" height="56.5"/>
<rect x="357.5" y="395" width="56.5" height="56.5"/><rect x="416.5" y="395" width="57" height="56.5"/>
</g>
<circle cx="385.7" cy="356.7" r="27" fill="#e4dcea" stroke="#aaa" stroke-width="0.6"/>
<circle cx="385.7" cy="356.7" r="25.5" fill="url(#speck)"/>
<circle cx="385.7" cy="423.2" r="27" fill="#e4dcea" stroke="#aaa" stroke-width="0.6"/>
<circle cx="385.7" cy="423.2" r="25.5" fill="url(#speck)"/>
<circle cx="445" cy="356.7" r="27" fill="#ececec" stroke="#b5b5b5" stroke-width="0.8"/>
<circle cx="445" cy="356.7" r="24.5" fill="#f3f3f3" stroke="#d0d0d0" stroke-width="0.5"/>
<circle cx="445" cy="423.2" r="27" fill="#ececec" stroke="#b5b5b5" stroke-width="0.8"/>
<circle cx="445" cy="423.2" r="24.5" fill="#f3f3f3" stroke="#d0d0d0" stroke-width="0.5"/>
<g fill="#8a3cc0" transform="translate(445,356.7)">
<circle cx="-10" cy="-18" r="1"/><circle cx="5" cy="-20" r="1.3"/><circle cx="12" cy="-14" r="0.9"/><circle cx="-18" cy="-5" r="1.1"/>
<circle cx="-5" cy="-8" r="0.8"/><circle cx="8" cy="-5" r="1.2"/><circle cx="18" cy="2" r="1"/><circle cx="-12" cy="6" r="0.9"/>
<circle cx="0" cy="4" r="0.8"/><circle cx="14" cy="10" r="1.3"/><circle cx="-20" cy="10" r="1"/><circle cx="-6" cy="16" r="1.2"/>
<circle cx="6" cy="18" r="1.4"/><circle cx="15" cy="-17" r="1"/><circle cx="-3" cy="22" r="1.2"/><circle cx="10" cy="20" r="1.5"/>
<circle cx="-15" cy="16" r="1"/><circle cx="20" cy="-8" r="0.9"/><circle cx="-22" cy="0" r="1"/><circle cx="2" cy="-12" r="0.8"/>
<circle cx="-8" cy="-2" r="0.7"/><circle cx="21" cy="12" r="1.3"/>
</g>
<g fill="#8a3cc0" transform="translate(445,423.2)">
<circle cx="-10" cy="-18" r="1.1"/><circle cx="5" cy="-20" r="1.3"/><circle cx="12" cy="-14" r="1"/><circle cx="-18" cy="-5" r="1.2"/>
<circle cx="-5" cy="-8" r="0.9"/><circle cx="8" cy="-5" r="1.3"/><circle cx="18" cy="2" r="1.1"/><circle cx="-12" cy="6" r="1"/>
<circle cx="0" cy="4" r="0.9"/><circle cx="14" cy="10" r="1.4"/><circle cx="-20" cy="10" r="1.1"/><circle cx="-6" cy="16" r="1.3"/>
<circle cx="6" cy="18" r="1.5"/><circle cx="15" cy="-17" r="1.1"/><circle cx="-3" cy="22" r="1.3"/><circle cx="10" cy="20" r="1.6"/>
<circle cx="-15" cy="16" r="1.1"/><circle cx="20" cy="-8" r="1"/><circle cx="-22" cy="0" r="1.1"/><circle cx="2" cy="-12" r="0.9"/>
<circle cx="-8" cy="-2" r="0.8"/><circle cx="21" cy="12" r="1.4"/><circle cx="-14" cy="-12" r="1.2"/><circle cx="3" cy="-16" r="1"/>
<circle cx="9" cy="0" r="1.1"/><circle cx="-2" cy="10" r="1.2"/><circle cx="12" cy="4" r="0.9"/><circle cx="-17" cy="-16" r="1"/>
<circle cx="17" cy="17" r="1.3"/><circle cx="-9" cy="21" r="1.4"/><circle cx="4" cy="-3" r="0.8"/><circle cx="-19" cy="3" r="1"/>
<circle cx="11" cy="-22" r="0.9"/><circle cx="0" cy="-23" r="1"/><circle cx="22" cy="-3" r="1.1"/><circle cx="-5" cy="-20" r="1"/>
</g>
<g stroke="#222" stroke-width="0.8">
<line x1="518.5" y1="329.1" x2="518.5" y2="451.5"/>
<line x1="518.5" y1="451.5" x2="575" y2="451.5"/>
<line x1="515.8" y1="329.1" x2="518.5" y2="329.1"/><line x1="515.8" y1="349.5" x2="518.5" y2="349.5"/>
<line x1="515.8" y1="369.9" x2="518.5" y2="369.9"/><line x1="515.8" y1="390.3" x2="518.5" y2="390.3"/>
<line x1="515.8" y1="410.7" x2="518.5" y2="410.7"/><line x1="515.8" y1="431.1" x2="518.5" y2="431.1"/>
<line x1="515.8" y1="451.5" x2="518.5" y2="451.5"/>
</g>
<g font-size="8" text-anchor="end">
<text x="514.5" y="332">120</text><text x="514.5" y="352.4">100</text><text x="514.5" y="372.8">80</text>
<text x="514.5" y="393.2">60</text><text x="514.5" y="413.6">40</text><text x="514.5" y="434">20</text><text x="514.5" y="454.4">0</text>
</g>
<text transform="translate(498.5,394) rotate(-90)" font-size="8" text-anchor="middle">Relative colony number</text>
<rect x="522" y="349.5" width="11" height="102" fill="#e8352a"/>
<rect x="535.3" y="440.8" width="10" height="10.7" fill="#9c8b43"/>
<rect x="547.5" y="389.3" width="10.5" height="62.2" fill="#62a8dd"/>
<rect x="561" y="437.2" width="10" height="14.3" fill="#f39a26"/>
<g stroke="#111" stroke-width="0.7">
<line x1="527.5" y1="344.4" x2="527.5" y2="354.6"/><line x1="525.5" y1="344.4" x2="529.5" y2="344.4"/><line x1="525.5" y1="354.6" x2="529.5" y2="354.6"/>
<line x1="540.3" y1="439" x2="540.3" y2="442.5"/><line x1="538.3" y1="439" x2="542.3" y2="439"/>
<line x1="552.7" y1="387.7" x2="552.7" y2="390.9"/><line x1="550.7" y1="387.7" x2="554.7" y2="387.7"/><line x1="550.7" y1="390.9" x2="554.7" y2="390.9"/>
<line x1="566" y1="435.5" x2="566" y2="439"/><line x1="564" y1="435.5" x2="568" y2="435.5"/>
<polyline points="540.3,384 540.3,381.5 552.7,381.5 552.7,384" fill="none"/>
<polyline points="540.3,375.5 540.3,373 566,373 566,375.5" fill="none"/>
</g>
<g font-size="6" text-anchor="middle"><text x="546.5" y="381">****</text><text x="553" y="372.5">*</text></g>
<g font-size="7.5" text-anchor="end">
<text transform="translate(528.5,456) rotate(-45)">Vector+SC</text>
<text transform="translate(541.5,456) rotate(-45)">Vector+sh</text>
<text transform="translate(554,456) rotate(-45)">PRC1<tspan font-size="5" dy="-3">T-D</tspan><tspan dy="3">+sh</tspan></text>
<text transform="translate(567,456) rotate(-45)">PRC1<tspan font-size="5" dy="-3">T-A</tspan><tspan dy="3">+sh</tspan></text>
</g>

<text x="3" y="499" font-size="10" fill="#9a9a9a">Figure 4 CDK16 promotes cell cycle progression and spindle formation by phosphorylating PRC1 at Thr481 in TNBC cells.</text>
</svg>
</body></html>
